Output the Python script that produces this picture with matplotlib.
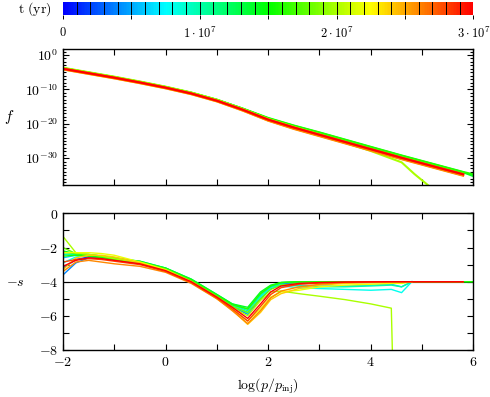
import numpy as np
import matplotlib
matplotlib.use('Agg')
import matplotlib.pyplot as plt
from matplotlib.colors import LinearSegmentedColormap, Normalize
from matplotlib.cm import ScalarMappable
from matplotlib.ticker import FixedLocator, FuncFormatter, NullFormatter

plt.rcParams['mathtext.fontset'] = 'cm'
plt.rcParams['font.family'] = 'serif'
plt.rcParams['font.serif'] = ['DejaVu Serif']

nan = np.nan

# snapshot times (yr)
times = [2e6, 4e6, 6e6, 8e6, 10e6, 12e6, 14e6, 16e6, 18e6, 20e6, 22e6, 24e6, 26e6, 28e6, 30e6]
# marks drawn on the colour bar (one per output)
cbar_marks = [k * 1e6 for k in range(1, 30)]

# ---- top panel: log10 f vs log(p/pinj)
xf = [-2, -1.5, -1, -0.5, 0, 0.5, 1, 1.5, 2, 2.5, 3, 3.5, 4, 4.6, 4.85, 5.25, 5.8, 6.0]
logf_rows = [
    [-3.95, -5.25, -6.55, -7.95, -9.45, -11.15, -13.2, -15.8, -18.65, -20.95, -23.05, -25.15, -27.25, -29.75, -30.75, -32.35, -34.55, nan],
    [-3.95, -5.25, -6.55, -7.95, -9.45, -11.15, -13.2, -15.8, -18.65, -20.95, -23.05, -25.15, -27.25, -29.75, -30.75, -32.35, -34.55, nan],
    [-3.95, -5.25, -6.55, -7.95, -9.45, -11.15, -13.2, -15.8, -18.65, -20.95, -23.05, -25.15, -27.25, -29.75, -30.75, -32.35, -34.55, nan],
    [-3.9, -5.2, -6.5, -7.9, -9.35, -11.05, -13.1, -15.7, -18.55, -20.85, -23.0, -25.2, -27.4, -29.9, -30.9, -32.5, -34.7, nan],
    [-3.85, -5.15, -6.45, -7.85, -9.3, -11.0, -13.05, -15.65, -18.5, -20.8, -22.9, -25.0, -27.1, -29.6, -30.6, -32.2, -34.4, nan],
    [-3.85, -5.15, -6.45, -7.85, -9.35, -11.05, -13.15, -15.7, -18.5, -20.75, -22.8, -24.9, -27.0, -29.5, -30.5, -32.1, -34.3, nan],
    [-3.85, -5.15, -6.45, -7.85, -9.35, -11.0, -13.05, -15.6, -18.4, -20.6, -22.6, -24.7, -26.8, -29.3, -30.3, -31.9, -34.1, -35.2],
    [-3.8, -5.1, -6.4, -7.8, -9.3, -10.95, -13.0, -15.55, -18.3, -20.5, -22.5, -24.6, -26.7, -29.2, -30.2, -31.8, -34.0, -34.7],
    [-3.9, -5.2, -6.5, -7.9, -9.4, -11.1, -13.2, -15.8, -18.65, -20.9, -23.0, -25.1, -27.2, -29.7, -30.7, -32.3, -34.5, nan],
    [-3.7, -5.0, -6.3, -7.7, -9.2, -10.9, -13.0, -15.65, -18.6, -20.95, -23.1, -25.5, -27.9, -31.2, -34.6, -39.5, nan, nan],
    [-4.1, -5.4, -6.7, -8.1, -9.6, -11.3, -13.4, -16.0, -18.95, -21.3, -23.4, -25.5, -27.6, -30.1, -31.1, -32.7, -34.9, nan],
    [-4.15, -5.45, -6.75, -8.15, -9.65, -11.35, -13.45, -16.1, -19.05, -21.4, -23.5, -25.6, -27.7, -30.2, -31.2, -32.8, -35.0, nan],
    [-4.2, -5.5, -6.8, -8.2, -9.7, -11.4, -13.5, -16.15, -19.1, -21.5, -23.6, -25.7, -27.8, -30.3, -31.3, -32.9, -35.1, nan],
    [-3.95, -5.25, -6.55, -7.95, -9.45, -11.15, -13.25, -15.85, -18.75, -21.05, -23.15, -25.25, -27.35, -29.85, -30.85, -32.45, -34.65, nan],
    [-4.0, -5.3, -6.6, -8.0, -9.5, -11.2, -13.3, -15.9, -18.8, -21.1, -23.2, -25.3, -27.4, -29.9, -30.9, -32.5, -34.7, nan],
]

# ---- bottom panel: local slope -s vs log(p/pinj)
xs = [-2, -1.75, -1.5, -1.25, -1, -0.5, 0, 0.5, 1, 1.3, 1.6, 1.85, 2.05, 2.25, 2.6, 3, 3.5, 4, 4.4, 4.6, 4.8, 5.8, 6.0]
slope_rows = [
    [-3.2, -2.7, -2.55, -2.6, -2.7, -2.95, -3.3, -3.95, -4.85, -5.45, -5.9, -5.0, -4.4, -4.15, -4.05, -4.02, -4.0, -4.0, -4.0, -4.0, -4.0, nan, nan],
    [-3.6, -2.9, -2.6, -2.6, -2.7, -2.95, -3.3, -3.95, -4.85, -5.45, -5.85, -4.95, -4.35, -4.1, -4.05, -4.02, -4.0, -4.0, -4.0, -4.0, -4.0, nan, nan],
    [-2.6, -2.45, -2.45, -2.55, -2.65, -2.9, -3.25, -3.9, -4.8, -5.4, -5.8, -4.9, -4.35, -4.15, -4.2, -4.25, -4.25, -4.2, -4.15, -4.3, -4.0, nan, nan],
    [-2.9, -2.55, -2.45, -2.5, -2.6, -2.85, -3.25, -3.9, -4.8, -5.35, -5.85, -4.9, -4.35, -4.25, -4.35, -4.4, -4.45, -4.5, -4.45, -4.64, -4.0, nan, nan],
    [-2.4, -2.4, -2.45, -2.5, -2.6, -2.8, -3.2, -3.9, -4.8, -5.35, -5.7, -4.8, -4.3, -4.15, -4.25, -4.3, -4.3, -4.25, -4.2, -4.3, -4.0, nan, nan],
    [-2.3, -2.35, -2.4, -2.5, -2.65, -2.85, -3.2, -3.85, -4.75, -5.3, -5.6, -4.7, -4.25, -4.05, -4.0, -4.0, -4.0, -4.0, -4.0, -4.0, -4.0, nan, nan],
    [-2.2, -2.35, -2.45, -2.55, -2.65, -2.8, -3.2, -3.85, -4.75, -5.3, -5.5, -4.6, -4.2, -4.05, -4.0, -4.0, -4.0, -4.0, -4.0, -4.0, -4.0, -4.0, -4.0],
    [-2.5, -2.45, -2.5, -2.6, -2.7, -2.85, -3.25, -3.9, -4.8, -5.35, -5.6, -4.7, -4.25, -4.05, -4.0, -4.0, -4.0, -4.0, -4.0, -4.0, -4.0, -4.0, -4.0],
    [-2.0, -2.35, -2.4, -2.5, -2.6, -2.85, -3.25, -3.95, -4.85, -5.45, -5.8, -5.0, -4.45, -4.2, -4.1, -4.05, -4.05, -4.05, -4.05, -4.05, -4.0, nan, nan],
    [-1.35, -2.3, -2.4, -2.5, -2.65, -2.9, -3.3, -4.0, -4.9, -5.5, -6.0, -5.1, -4.6, -4.55, -4.7, -4.85, -5.05, -5.3, -5.55, -30.0, nan, nan, nan],
    [-2.3, -2.3, -2.3, -2.35, -2.45, -2.85, -3.3, -4.0, -4.95, -5.6, -6.3, -5.6, -4.9, -4.6, -4.5, -4.3, -4.2, -4.15, -4.1, -4.1, -4.0, nan, nan],
    [-3.3, -2.6, -2.45, -2.45, -2.55, -2.9, -3.4, -4.05, -5.0, -5.65, -6.5, -5.8, -5.05, -4.7, -4.4, -4.2, -4.1, -4.05, -4.02, -4.0, -4.0, nan, nan],
    [-3.4, -2.85, -2.75, -2.85, -2.95, -3.1, -3.45, -4.1, -5.0, -5.7, -6.45, -5.7, -4.95, -4.55, -4.3, -4.15, -4.05, -4.02, -4.0, -4.0, -4.0, -4.0, nan],
    [-2.85, -2.7, -2.65, -2.7, -2.8, -3.0, -3.4, -4.05, -4.95, -5.6, -6.3, -5.45, -4.75, -4.35, -4.15, -4.08, -4.03, -4.01, -4.0, -4.0, -4.0, -4.0, nan],
    [-3.1, -2.75, -2.6, -2.65, -2.75, -2.95, -3.35, -4.0, -4.9, -5.5, -6.15, -5.3, -4.6, -4.25, -4.1, -4.05, -4.02, -4.01, -4.0, -4.0, -4.0, -4.0, nan],
]

cmap = LinearSegmentedColormap.from_list('tmap', ['#0000ff', '#00ffff', '#00ff00', '#ffff00', '#ff0000'])
norm = Normalize(vmin=0, vmax=3e7)

fig = plt.figure(figsize=(4.9, 3.97), dpi=100)
cax = fig.add_axes([0.1286, 0.9622, 0.8375, 0.0327])
ax1 = fig.add_axes([0.1286, 0.534, 0.8375, 0.3418])
ax2 = fig.add_axes([0.1286, 0.1184, 0.8375, 0.344])

fs = 10

# colour bar
sm = ScalarMappable(norm=norm, cmap=cmap)
cb = fig.colorbar(sm, cax=cax, orientation='horizontal')
cb.outline.set_visible(False)
for t in cbar_marks:
    cax.axvline(t, color='k', lw=0.7)
cb.set_ticks([0, 5e6, 1e7, 1.5e7, 2e7, 2.5e7, 3e7])
cb.set_ticklabels([r'$0$', '', r'$1\cdot 10^{7}$', '', r'$2\cdot 10^{7}$', '', r'$3\cdot 10^{7}$'])
cax.tick_params(direction='out', length=3, width=0.7, labelsize=9, pad=5)
fig.text(0.072, 0.978, r'$\mathrm{t\ (yr)}$', ha='center', va='center', fontsize=fs)

# top panel
for t, row in zip(times, logf_rows):
    ax1.plot(xf, 10.0 ** np.array(row), color=cmap(norm(t)), lw=1.5)
ax1.set_yscale('log')
ax1.set_xlim(-2, 6)
ax1.set_ylim(10 ** -37.8, 10 ** 1.66)
ax1.yaxis.set_major_locator(FixedLocator([1e0, 1e-10, 1e-20, 1e-30]))
ax1.yaxis.set_minor_locator(FixedLocator([10.0 ** k for k in range(-37, 2)]))
ax1.yaxis.set_major_formatter(FuncFormatter(lambda v, p: r'$10^{%d}$' % round(np.log10(v))))
ax1.yaxis.set_minor_formatter(NullFormatter())
ax1.xaxis.set_major_locator(FixedLocator(range(-2, 7)))
ax1.set_xticklabels([])
ax1.tick_params(which='both', direction='in', top=True, right=True, labelsize=fs, width=0.8)
ax1.tick_params(which='major', length=4)
ax1.tick_params(which='minor', length=2)
fig.text(0.018, 0.705, r'$f$', ha='center', va='center', fontsize=fs + 1)

# bottom panel
ax2.axhline(-4, color='k', lw=0.8)
for t, row in zip(times, slope_rows):
    ax2.plot(xs, row, color=cmap(norm(t)), lw=1.0)
ax2.set_xlim(-2, 6)
ax2.set_ylim(-8, 0)
ax2.xaxis.set_major_locator(FixedLocator([-2, 0, 2, 4, 6]))
ax2.xaxis.set_minor_locator(FixedLocator([-1, 1, 3, 5]))
ax2.yaxis.set_major_locator(FixedLocator([-8, -6, -4, -2, 0]))
ax2.yaxis.set_minor_locator(FixedLocator([-7, -5, -3, -1]))
ax2.xaxis.set_major_formatter(FuncFormatter(lambda v, p: r'$%d$' % v))
ax2.yaxis.set_major_formatter(FuncFormatter(lambda v, p: r'$%d$' % v))
ax2.tick_params(which='both', direction='in', top=True, right=True, labelsize=fs,
                width=0.8, length=4)
ax2.set_xlabel(r'$\log(p/p_{\rm inj})$', fontsize=fs, labelpad=6)
fig.text(0.031, 0.29, r'$-s$', ha='center', va='center', fontsize=fs)

for ax in (ax1, ax2):
    for sp in ax.spines.values():
        sp.set_linewidth(1.0)

fig.savefig('out.png', dpi=100)
